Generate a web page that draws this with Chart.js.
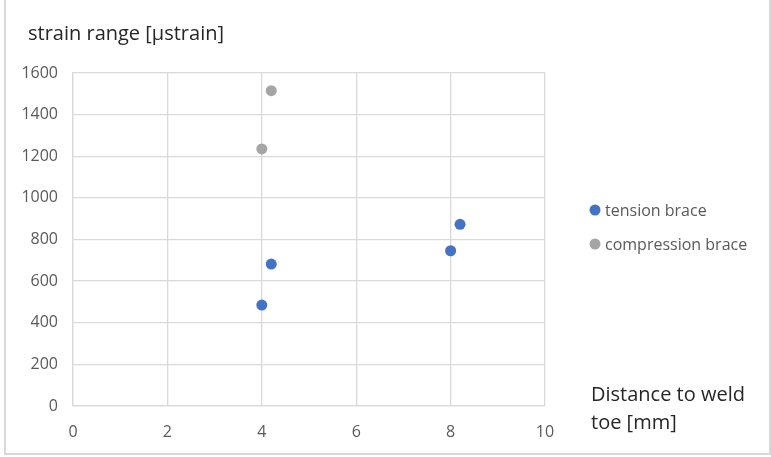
<!DOCTYPE html>
<html>
<head>
<meta charset="utf-8">
<script src="https://cdn.jsdelivr.net/npm/chart.js@4.4.1/dist/chart.umd.min.js"></script>
<style>
  html, body { margin: 0; padding: 0; background: #ffffff; }
  #wrap { width: 771px; height: 457px; }
</style>
</head>
<body>
<div id="wrap"><canvas id="c" width="771" height="457"></canvas></div>
<script>
// Strain range measured at several distances from the weld toe
const seriesNames = ['tension brace', 'compression brace'];
const tensionX = [4, 4.2, 8, 8.2];
const tensionY = [485, 682, 746, 873];
const compressionX = [4, 4.2];
const compressionY = [1235, 1515];
const xTicks = [0, 2, 4, 6, 8, 10];
const yTicks = [0, 200, 400, 600, 800, 1000, 1200, 1400, 1600];

const yTitle = 'strain range [\u00b5strain]';
const xTitleLines = ['Distance to weld', 'toe [mm]'];

const FONT = '"Open Sans", "Liberation Sans", sans-serif';
const colors = ['#4472C4', '#A5A5A5'];

function toPoints(xs, ys) {
  return xs.map((x, i) => ({ x: x, y: ys[i] }));
}

// Outer frame, free text and legend
const decorations = {
  id: 'decorations',
  beforeDraw(chart) {
    const ctx = chart.ctx;
    ctx.save();
    ctx.fillStyle = '#ffffff';
    ctx.fillRect(0, 0, chart.width, chart.height);
    ctx.strokeStyle = '#d9d9d9';
    ctx.lineWidth = 2;
    ctx.beginPath();
    ctx.moveTo(5, 0);
    ctx.lineTo(5, 454);
    ctx.lineTo(770, 454);
    ctx.lineTo(770, 0);
    ctx.stroke();
    ctx.restore();
  },
  afterDraw(chart) {
    const ctx = chart.ctx;
    ctx.save();
    ctx.textAlign = 'left';
    ctx.textBaseline = 'alphabetic';
    // value axis title
    ctx.fillStyle = '#262626';
    ctx.font = '20px ' + FONT;
    ctx.fillText(yTitle, 28, 40);
    // distance axis title
    ctx.fillText(xTitleLines[0], 591, 401);
    ctx.fillText(xTitleLines[1], 591, 429);
    // legend
    chart.data.datasets.forEach((ds, i) => {
      const cy = 210 + i * 34;
      ctx.beginPath();
      ctx.fillStyle = ds.backgroundColor;
      ctx.arc(595, cy, 5.5, 0, Math.PI * 2);
      ctx.fill();
      ctx.fillStyle = '#595959';
      ctx.font = '16px ' + FONT;
      ctx.textBaseline = 'middle';
      ctx.fillText(ds.label, 605, cy + 1);
    });
    ctx.restore();
  }
};

new Chart(document.getElementById('c'), {
  type: 'scatter',
  data: {
    datasets: [
      {
        label: seriesNames[0],
        data: toPoints(tensionX, tensionY),
        backgroundColor: colors[0],
        borderColor: colors[0],
        pointRadius: 5.5,
        pointHoverRadius: 5.5,
        borderWidth: 0
      },
      {
        label: seriesNames[1],
        data: toPoints(compressionX, compressionY),
        backgroundColor: colors[1],
        borderColor: colors[1],
        pointRadius: 5.5,
        pointHoverRadius: 5.5,
        borderWidth: 0
      }
    ]
  },
  options: {
    responsive: false,
    animation: false,
    devicePixelRatio: 1,
    layout: { padding: { top: 73, right: 226, bottom: 0, left: 0 } },
    plugins: {
      legend: { display: false },
      title: { display: false },
      tooltip: { enabled: false }
    },
    scales: {
      x: {
        type: 'linear',
        min: xTicks[0],
        max: xTicks[xTicks.length - 1],
        afterBuildTicks(scale) { scale.ticks = xTicks.map(v => ({ value: v })); },
        afterFit(scale) { scale.height = 51; },
        ticks: {
          color: '#595959',
          font: { family: FONT, size: 16 },
          padding: 17,
          maxRotation: 0,
          callback: v => String(v)
        },
        grid: { color: '#d9d9d9', lineWidth: 1.3, drawTicks: false },
        border: { color: '#d9d9d9', width: 1.3 }
      },
      y: {
        type: 'linear',
        min: yTicks[0],
        max: yTicks[yTicks.length - 1],
        afterBuildTicks(scale) { scale.ticks = yTicks.map(v => ({ value: v })); },
        afterFit(scale) { scale.width = 73; },
        ticks: {
          color: '#595959',
          font: { family: FONT, size: 16 },
          padding: 15,
          callback: v => String(v)
        },
        grid: { color: '#d9d9d9', lineWidth: 1.3, drawTicks: false },
        border: { color: '#d9d9d9', width: 1.3 }
      }
    }
  },
  plugins: [decorations]
});
</script>
</body>
</html>
